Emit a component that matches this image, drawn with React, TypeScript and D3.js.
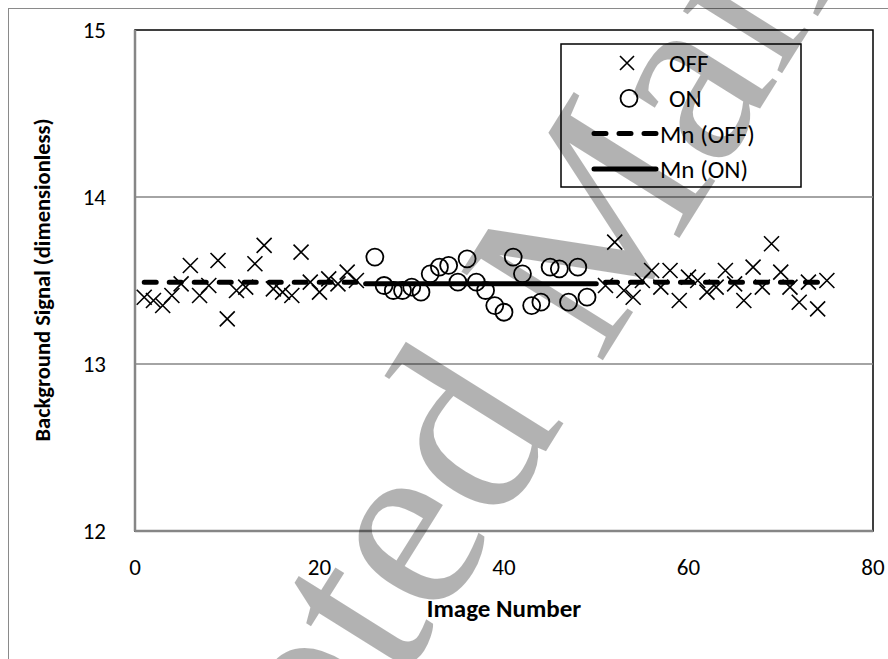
import React from "react";
import * as d3 from "d3";

// ---- Data ----
const offImages = [
  1, 2, 3, 4, 5, 6, 7, 8, 9, 10, 11, 12, 13, 14, 15, 16, 17, 18, 19, 20, 21, 22, 23, 24,
  51, 52, 53, 54, 55, 56, 57, 58, 59, 60, 61, 62, 63, 64, 65, 66, 67, 68, 69, 70, 71, 72, 73, 74, 75,
];
const offValues = [
  13.40, 13.38, 13.35, 13.41, 13.48, 13.59, 13.41, 13.47, 13.62, 13.27, 13.44, 13.46,
  13.60, 13.71, 13.45, 13.43, 13.41, 13.67, 13.49, 13.43, 13.51, 13.48, 13.55, 13.50,
  13.47, 13.73, 13.44, 13.40, 13.50, 13.56, 13.46, 13.56, 13.38, 13.52, 13.50, 13.43,
  13.46, 13.56, 13.48, 13.38, 13.58, 13.46, 13.72, 13.55, 13.46, 13.37, 13.49, 13.33, 13.50,
];
const onImages = [
  26, 27, 28, 29, 30, 31, 32, 33, 34, 35, 36, 37, 38, 39, 40, 41, 42, 43, 44, 45, 46, 47, 48, 49,
];
const onValues = [
  13.64, 13.47, 13.44, 13.44, 13.46, 13.43, 13.54, 13.58, 13.59, 13.49, 13.63, 13.49,
  13.44, 13.35, 13.31, 13.64, 13.54, 13.35, 13.37, 13.58, 13.57, 13.37, 13.58, 13.40,
];
const meanOffSegments = [
  [1, 24],
  [51, 75],
];
const meanOffValue = 13.49;
const meanOnSegment = [25, 50];
const meanOnValue = 13.48;

const xTicks = [0, 20, 40, 60, 80];
const yTicks = [12, 13, 14, 15];
const gridValues = [13, 14];
const legendLabels = ["OFF", "ON", "Mn (OFF)", "Mn (ON)"];
const xTitle = "Image Number";
const yTitle = "Background Signal (dimensionless)";
const watermark = "Accepted Manuscript";

const FONT = "Carlito, Calibri, Lato, 'Open Sans', sans-serif";

const W = 888;
const H = 659;
const plot = { left: 135, right: 873, top: 30, bottom: 531 };

function XMark({ cx, cy, s }: { cx: number; cy: number; s: number }) {
  return (
    <path
      d={`M${cx - s},${cy - s}L${cx + s},${cy + s}M${cx - s},${cy + s}L${cx + s},${cy - s}`}
      stroke="#000"
      strokeWidth={1.6}
      fill="none"
    />
  );
}

export default function App() {
  const x = d3.scaleLinear().domain([0, 80]).range([plot.left, plot.right]);
  const y = d3.scaleLinear().domain([12, 15]).range([plot.bottom, plot.top]);
  const line = d3
    .line<[number, number]>()
    .x((d) => x(d[0]))
    .y((d) => y(d[1]));

  const legend = { x: 561, y: 44, w: 240, h: 143 };
  const rowY = (i: number) => legend.y + 19 + i * 35.3;

  return (
    <svg
      width={W}
      height={H}
      style={{ position: "absolute", left: 0, top: 0, background: "#fff" }}
      xmlns="http://www.w3.org/2000/svg"
    >
      <rect x={0} y={0} width={W} height={H} fill="#fff" />
      {/* outer chart border */}
      <rect x={8.5} y={8.5} width={1000} height={1000} fill="none" stroke="#8a8a8a" strokeWidth={1} />

      {/* plot area frame */}
      <rect
        x={plot.left}
        y={plot.top}
        width={plot.right - plot.left}
        height={plot.bottom - plot.top}
        fill="none"
        stroke="#000"
        strokeWidth={1.5}
      />
      {gridValues.map((g) => (
        <line key={g} x1={plot.left} x2={plot.right} y1={y(g)} y2={y(g)} stroke="#868686" strokeWidth={1.5} />
      ))}
      {/* axes */}
      <line x1={plot.left} x2={plot.left} y1={plot.top} y2={plot.bottom} stroke="#868686" strokeWidth={2.5} />
      <line x1={plot.left} x2={plot.right} y1={plot.bottom} y2={plot.bottom} stroke="#868686" strokeWidth={2.5} />

      {/* tick labels */}
      {yTicks.map((t) => (
        <text key={t} x={106} y={y(t)} dy="0.36em" textAnchor="end" fontFamily={FONT} fontSize={23} fill="#000">
          {t}
        </text>
      ))}
      {xTicks.map((t) => (
        <text key={t} x={x(t)} y={567} dy="0.36em" textAnchor="middle" fontFamily={FONT} fontSize={23} fill="#000">
          {t}
        </text>
      ))}

      {/* axis titles */}
      <text x={504} y={608} dy="0.36em" textAnchor="middle" fontFamily={FONT} fontSize={25} fontWeight="bold">
        {xTitle}
      </text>
      <text
        transform="translate(42,280) rotate(-90)"
        dy="0.36em"
        textAnchor="middle"
        fontFamily={FONT}
        fontSize={22.5}
        fontWeight="bold"
      >
        {yTitle}
      </text>

      {/* mean lines */}
      {meanOffSegments.map((seg, i) => (
        <path
          key={i}
          d={line([
            [seg[0], meanOffValue],
            [seg[1], meanOffValue],
          ]) as string}
          stroke="#000"
          strokeWidth={5}
          strokeDasharray="12 13"
          strokeLinecap="round"
          fill="none"
        />
      ))}
      <path
        d={line([
          [meanOnSegment[0], meanOnValue],
          [meanOnSegment[1], meanOnValue],
        ]) as string}
        stroke="#000"
        strokeWidth={5}
        strokeLinecap="round"
        fill="none"
      />

      {/* points */}
      {offImages.map((img, i) => (
        <XMark key={"x" + i} cx={x(img)} cy={y(offValues[i])} s={7.5} />
      ))}
      {onImages.map((img, i) => (
        <circle key={"o" + i} cx={x(img)} cy={y(onValues[i])} r={8.5} fill="none" stroke="#000" strokeWidth={1.8} />
      ))}

      {/* legend */}
      <rect x={legend.x} y={legend.y} width={legend.w} height={legend.h} fill="#fff" stroke="#000" strokeWidth={1.5} />
      <XMark cx={627} cy={rowY(0)} s={7} />
      <circle cx={629} cy={rowY(1)} r={8.5} fill="none" stroke="#000" strokeWidth={1.8} />
      <line x1={594} x2={656} y1={rowY(2)} y2={rowY(2)} stroke="#000" strokeWidth={5} strokeDasharray="12 13" strokeLinecap="round" />
      <line x1={594} x2={656} y1={rowY(3)} y2={rowY(3)} stroke="#000" strokeWidth={5} strokeLinecap="round" />
      {legendLabels.map((l, i) => (
        <text key={l} x={i < 2 ? 669 : 660} y={rowY(i)} dy="0.36em" fontFamily={FONT} fontSize={25}>
          {l}
        </text>
      ))}

      {/* watermark */}
      <text
        transform="translate(55,1237) rotate(-58)"
        fontFamily="'Liberation Serif', 'Times New Roman', serif"
        fontSize={255}
        fill="#000"
        fillOpacity={0.3}
      >
        {watermark}
      </text>
    </svg>
  );
}
